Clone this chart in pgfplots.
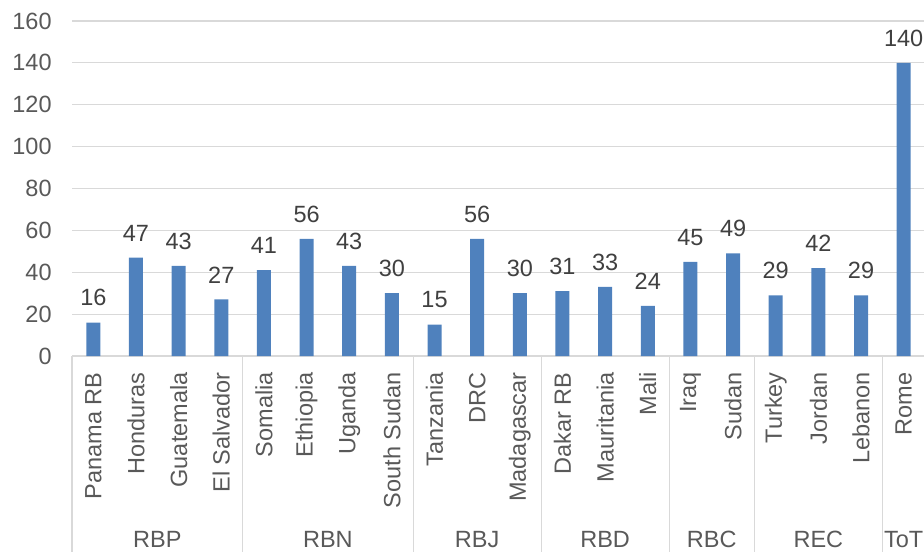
\documentclass[border=0pt]{standalone}
\usepackage{fontspec}
\setmainfont{Liberation Sans}
\usepackage{pgfplots}
\pgfplotsset{compat=1.18}
\definecolor{barblue}{HTML}{4F81BD}
\definecolor{txtgray}{HTML}{595959}
\definecolor{lblgray}{HTML}{404040}
\definecolor{gridgray}{HTML}{D9D9D9}
\begin{document}
\begin{tikzpicture}[font=\fontsize{11.75}{14}\selectfont]
\path[use as bounding box, clip] (-36pt,-97.5pt) rectangle (426pt,178pt);
\begin{axis}[
  scale only axis,
  width=426.5pt, height=167.5pt,
  ybar, bar width=7pt,
  ymin=0, ymax=160, ytick={0,20,...,160},
  xmin=-0.5, xmax=19.5,
  xtick={0,...,19},
  xticklabels={Panama RB,Honduras,Guatemala,El Salvador,Somalia,Ethiopia,Uganda,South Sudan,Tanzania,DRC,Madagascar,Dakar RB,Mauritania,Mali,Iraq,Sudan,Turkey,Jordan,Lebanon,Rome},
  /pgf/number format/assume math mode=true,
  axis line style={draw=none},
  major tick length=0pt,
  ymajorgrids, grid style={draw=gridgray, line width=0.6pt},
  yticklabel style={anchor=east, inner sep=0pt, xshift=-10pt, text=txtgray},
  xticklabel style={yshift=-8pt, rotate=90, anchor=east, inner sep=0pt, text=txtgray},
  nodes near coords,
  every node near coord/.append style={inner sep=0pt, yshift=8pt, text=lblgray},
  clip=false,
]
\addplot[fill=barblue, draw=none] coordinates {
(0,16) (1,47) (2,43) (3,27) (4,41) (5,56) (6,43) (7,30) (8,15) (9,56)
(10,30) (11,31) (12,33) (13,24) (14,45) (15,49) (16,29) (17,42) (18,29) (19,140)};
\draw[gridgray, line width=0.6pt] (axis cs:-0.5,0) -- ++(0pt,-100pt);
\draw[gridgray, line width=0.6pt] (axis cs:3.5,0) -- ++(0pt,-100pt);
\draw[gridgray, line width=0.6pt] (axis cs:7.5,0) -- ++(0pt,-100pt);
\draw[gridgray, line width=0.6pt] (axis cs:10.5,0) -- ++(0pt,-100pt);
\draw[gridgray, line width=0.6pt] (axis cs:13.5,0) -- ++(0pt,-100pt);
\draw[gridgray, line width=0.6pt] (axis cs:15.5,0) -- ++(0pt,-100pt);
\draw[gridgray, line width=0.6pt] (axis cs:18.5,0) -- ++(0pt,-100pt);
\draw[gridgray, line width=0.6pt] (axis cs:19.5,0) -- ++(0pt,-100pt);
\node[anchor=base, inner sep=0pt, text=txtgray] at ([yshift=-95.5pt]axis cs:1.5,0) {RBP};
\node[anchor=base, inner sep=0pt, text=txtgray] at ([yshift=-95.5pt]axis cs:5.5,0) {RBN};
\node[anchor=base, inner sep=0pt, text=txtgray] at ([yshift=-95.5pt]axis cs:9,0) {RBJ};
\node[anchor=base, inner sep=0pt, text=txtgray] at ([yshift=-95.5pt]axis cs:12,0) {RBD};
\node[anchor=base, inner sep=0pt, text=txtgray] at ([yshift=-95.5pt]axis cs:14.5,0) {RBC};
\node[anchor=base, inner sep=0pt, text=txtgray] at ([yshift=-95.5pt]axis cs:17,0) {REC};
\node[anchor=base, inner sep=0pt, text=txtgray] at ([yshift=-95.5pt]axis cs:19,0) {ToT};
\end{axis}
\end{tikzpicture}
\end{document}
